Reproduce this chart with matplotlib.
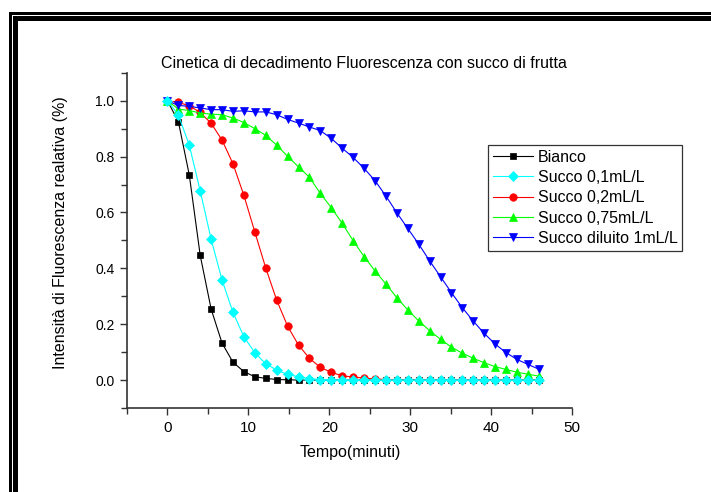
import matplotlib
matplotlib.use("Agg")
import matplotlib.pyplot as plt
from matplotlib.patches import Rectangle
from matplotlib.ticker import MultipleLocator

# ------------ Data ------------

tempo = [0, 1.35, 2.7, 4.05, 5.4, 6.75, 8.1, 9.45, 10.8, 12.15, 13.5, 14.85,
         16.2, 17.55, 18.9, 20.25, 21.6, 22.95, 24.3, 25.65, 27.0, 28.35,
         29.7, 31.05, 32.4, 33.75, 35.1, 36.45, 37.8, 39.15, 40.5, 41.85,
         43.2, 44.55, 45.9]

bianco = [1.0, 0.925, 0.734, 0.446, 0.254, 0.132, 0.064, 0.030, 0.012, 0.006,
          0.002, 0.001, 0, 0, 0, 0, 0, 0, 0, 0, 0, 0, 0, 0, 0, 0, 0, 0, 0, 0,
          0, 0, 0, 0, 0]

succo_01 = [1.0, 0.949, 0.841, 0.677, 0.504, 0.358, 0.242, 0.155, 0.098, 0.058,
            0.036, 0.020, 0.012, 0.005, 0.002, 0.001, 0, 0, 0, 0, 0, 0, 0, 0,
            0, 0, 0, 0, 0, 0, 0, 0, 0, 0, 0]

succo_02 = [1.0, 0.994, 0.982, 0.958, 0.919, 0.859, 0.774, 0.661, 0.530, 0.401,
            0.286, 0.193, 0.125, 0.078, 0.045, 0.028, 0.015, 0.011, 0.007,
            0.004, 0.002, 0.001, 0, 0, 0, 0, 0, 0, 0, 0, 0, 0, 0, 0, 0]

succo_075 = [1.0, 0.970, 0.965, 0.956, 0.952, 0.950, 0.938, 0.922, 0.900, 0.876,
             0.841, 0.801, 0.763, 0.726, 0.668, 0.617, 0.561, 0.499, 0.442,
             0.391, 0.344, 0.295, 0.251, 0.212, 0.177, 0.146, 0.118, 0.096,
             0.078, 0.062, 0.048, 0.038, 0.028, 0.021, 0.014]

succo_diluito = [1.0, 0.983, 0.980, 0.974, 0.968, 0.968, 0.962, 0.964, 0.960,
                 0.960, 0.950, 0.933, 0.920, 0.906, 0.893, 0.865, 0.830, 0.797,
                 0.758, 0.714, 0.659, 0.599, 0.543, 0.487, 0.427, 0.370, 0.313,
                 0.259, 0.211, 0.167, 0.129, 0.098, 0.074, 0.056, 0.039]

etichette = ["Bianco", "Succo 0,1mL/L", "Succo 0,2mL/L", "Succo 0,75mL/L",
             "Succo diluito 1mL/L"]

# ------------ Figure ------------

W, H = 711, 492
plt.rcParams['font.family'] = ['Liberation Sans', 'DejaVu Sans']
NARROW = ['Liberation Sans Narrow', 'Liberation Sans']
fig = plt.figure(figsize=(W / 100, H / 100), dpi=100)


def px(x, y):
    # pixel coords (from top-left) -> figure fraction
    return x / W, 1 - y / H


def band(x0, y0, x1, y1):
    fx0, fy0 = px(x0, y1)
    fx1, fy1 = px(x1, y0)
    fig.add_artist(Rectangle((fx0, fy0), fx1 - fx0, fy1 - fy0,
                             transform=fig.transFigure, color='black', lw=0))


# double border, cut at right and bottom
band(9, 12, 11.8, H)
band(9, 12, W, 14.8)
band(13, 16, 17.8, H)
band(13, 16, W, 20.8)

left, right, bottom, top = 127, 572, 408, 72.8
ax = fig.add_axes([left / W, 1 - bottom / H, (right - left) / W, (bottom - top) / H])

serie = [bianco, succo_01, succo_02, succo_075, succo_diluito]
colori = ['black', '#00FFFF', '#FF0000', '#00FF00', '#0000FF']
marker = ['s', 'D', 'o', '^', 'v']
msize = [4.8, 5.2, 5.4, 5.8, 5.8]
ordine = [1, 5, 2, 3, 4]  # cyan sits on top in the original

for vals, col, mk, ms, z, lab in zip(serie, colori, marker, msize, ordine, etichette):
    ax.plot(tempo, vals, color=col, lw=0.8, marker=mk, ms=ms,
            mfc=col, mec=col, mew=0.5, zorder=z + 2, label=lab)

ax.set_xlim(-5, 50)
ax.set_ylim(-0.1, 1.1)
ax.xaxis.set_major_locator(MultipleLocator(10))
ax.xaxis.set_minor_locator(MultipleLocator(5))
ax.yaxis.set_major_locator(MultipleLocator(0.2))
ax.yaxis.set_minor_locator(MultipleLocator(0.1))
ax.yaxis.set_major_formatter(plt.FormatStrFormatter('%.1f'))

for s in ['top', 'right']:
    ax.spines[s].set_visible(False)
for s in ['left', 'bottom']:
    ax.spines[s].set_linewidth(1.2)
    ax.spines[s].set_color('#333333')

ax.tick_params(which='major', direction='out', length=5, width=1, color='#333333',
               labelsize=10, pad=4)
ax.tick_params(which='minor', direction='out', length=4.5, width=1, color='#333333')
for lbl in ax.get_xticklabels():
    lbl.set_family(NARROW)
    lbl.set_fontsize(11)

fig.text(364 / W, 1 - 63 / H, "Cinetica di decadimento Fluorescenza con succo di frutta",
         ha='center', va='center', fontsize=11.5)
fig.text(61 / W, 1 - 233 / H, "Intensità di Fluorescenza realativa (%)",
         rotation=90, ha='center', va='center', fontsize=11.5)
fig.text(350 / W, 1 - 452 / H, "Tempo(minuti)", ha='center', va='center',
         fontsize=11.5, family=NARROW)

leg = ax.legend(loc='upper left', bbox_to_anchor=px(488, 145),
                bbox_transform=fig.transFigure, fontsize=11.5, frameon=True,
                fancybox=False, shadow=False, borderpad=0.3, labelspacing=0.33,
                handlelength=2.5, handletextpad=0.3, borderaxespad=0)
leg.get_frame().set_edgecolor('black')
leg.get_frame().set_linewidth(0.9)

fig.savefig("out.png", dpi=100)
